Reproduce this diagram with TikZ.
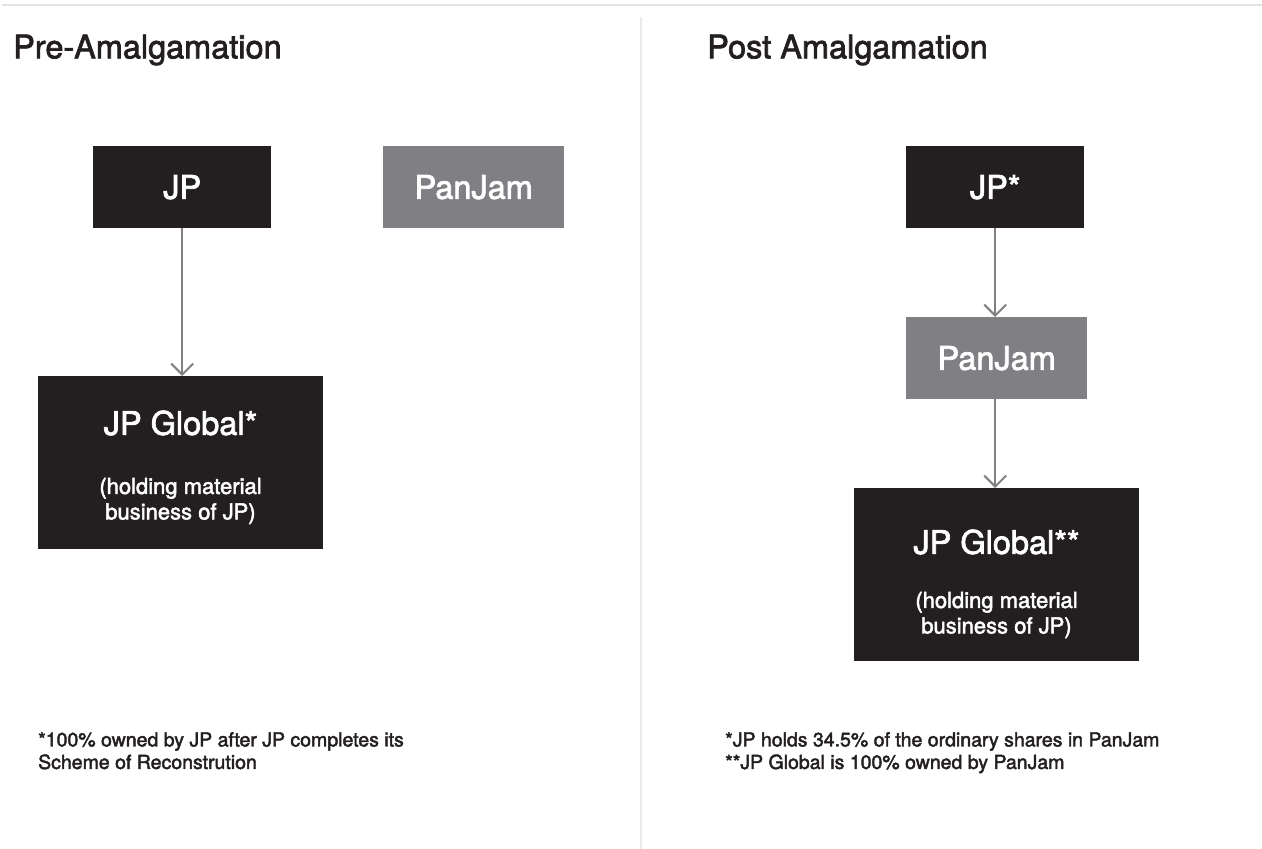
\documentclass[tikz,border=0pt]{standalone}
\usepackage{fontspec}
\setmainfont{TeX Gyre Heros}
\newfontfamily\medfont[FakeBold=2.2]{TeX Gyre Heros}
\usetikzlibrary{arrows.meta}
\definecolor{boxdark}{HTML}{231F20}
\definecolor{boxgray}{HTML}{808084}
\definecolor{arrowgray}{HTML}{808080}
\definecolor{rulegray}{HTML}{E3E3E3}
\tikzset{
  darkbox/.style={fill=boxdark, text=white, inner sep=0pt, anchor=north west},
  graybox/.style={fill=boxgray, text=white, inner sep=0pt, anchor=north west},
  conn/.style={draw=arrowgray, line width=2pt, -{Straight Barb[length=11pt,width=22pt,line width=2pt]}},
  title/.style={anchor=west, font=\medfont\fontsize{32.5}{38}\selectfont, text=boxdark, inner sep=0pt},
  boxlabel/.style={font=\medfont\fontsize{32.5}{38}\selectfont, text=white, inner sep=0pt},
  sublabel/.style={font=\medfont\fontsize{22}{25.5}\selectfont, text=white, inner sep=0pt, align=center},
  foot/.style={anchor=north west, font=\medfont\fontsize{19.5}{22.5}\selectfont, text=boxdark, align=left, inner sep=0pt},
}
\begin{document}
\begin{tikzpicture}[x=1pt,y=-1pt]
\useasboundingbox (0,0) rectangle (1262,849);
% rules
\draw[rulegray, line width=2pt] (2,5) -- (1262,5);
\draw[rulegray!70, line width=1.2pt] (641,17) -- (641,849);
% titles
\node[title] (t1) at (13,50) {Pre-Amalgamation};
\node[title] (t2) at (707,50) {Post Amalgamation};
% left
\node[darkbox, minimum width=178pt, minimum height=82pt] (jp) at (93,146) {};
\node[boxlabel] at (jp.center) {JP};
\node[graybox, minimum width=181pt, minimum height=82pt] (pj) at (383,146) {};
\node[boxlabel] at (pj.center) {PanJam};
\node[darkbox, minimum width=285pt, minimum height=173pt] (jpg) at (38,376) {};
\node[boxlabel] at (180.5,423) {JP Global*};
\node[sublabel] at (180.5,501) {(holding material\\business of JP)};
\draw[conn] (jp.south) -- (jp.south |- jpg.north);
% right
\node[darkbox, minimum width=178pt, minimum height=82pt] (jp2) at (906,146) {};
\node[boxlabel] at (jp2.center) {JP*};
\node[graybox, minimum width=181pt, minimum height=82pt] (pj2) at (906,317) {};
\node[boxlabel] at (pj2.center) {PanJam};
\node[darkbox, minimum width=285pt, minimum height=173pt] (jpg2) at (854,488) {};
\node[boxlabel] at (996.5,542) {JP Global**};
\node[sublabel] at (996.5,615) {(holding material\\business of JP)};
\draw[conn] (jp2.south) -- (jp2.south |- pj2.north);
\draw[conn] (jp2.south |- pj2.south) -- (jp2.south |- jpg2.north);
% footnotes
\node[foot] (f1) at (38,732) {*100\% owned by JP after JP completes its\\Scheme of Reconstrution};
\node[foot] (f2) at (725,732) {*JP holds 34.5\% of the ordinary shares in PanJam\\**JP Global is 100\% owned by PanJam};
\end{tikzpicture}
\end{document}
